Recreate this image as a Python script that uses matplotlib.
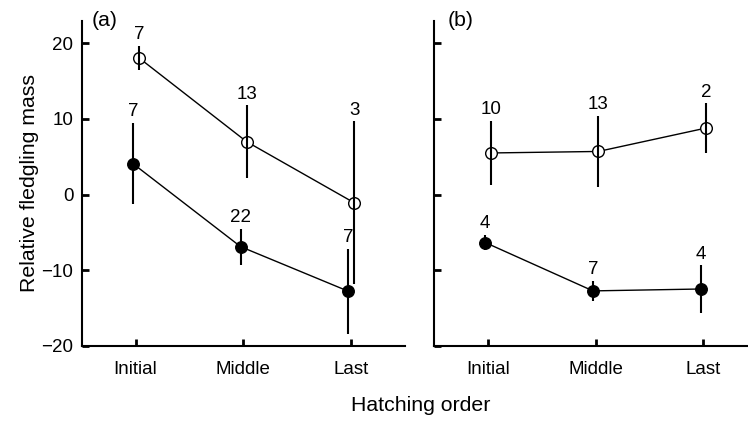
#!/usr/bin/env python3
"""Relative fledgling mass by hatching order, two panels."""

import matplotlib

matplotlib.use("Agg")
import matplotlib.pyplot as plt
import numpy as np

plt.rcParams["font.family"] = ["Liberation Sans", "DejaVu Sans"]

ORDER = ["Initial", "Middle", "Last"]

# panel (a)
A_OPEN_MEAN = [18.1, 7.0, -1.1]
A_OPEN_ERR = [1.6, 4.8, 10.8]
A_OPEN_N = ["7", "13", "3"]
A_FILLED_MEAN = [4.1, -6.9, -12.8]
A_FILLED_ERR = [5.4, 2.4, 5.6]
A_FILLED_N = ["7", "22", "7"]

# panel (b)
B_OPEN_MEAN = [5.5, 5.7, 8.8]
B_OPEN_ERR = [4.25, 4.75, 3.25]
B_OPEN_N = ["10", "13", "2"]
B_FILLED_MEAN = [-6.35, -12.75, -12.5]
B_FILLED_ERR = [1.0, 1.3, 3.15]
B_FILLED_N = ["4", "7", "4"]

FS = 13.5
LABEL_FS = 15.3


def draw_series(ax, x, mean, err, labels, filled):
    x = np.asarray(x, dtype=float)
    mean = np.asarray(mean, dtype=float)
    err = np.asarray(err, dtype=float)
    ax.plot(x, mean, color="black", linewidth=1.0, zorder=3)
    if filled:
        ax.plot(x, mean, "o", color="black", markersize=8.3, zorder=4)
    else:
        ax.plot(x, mean, "o", markerfacecolor="white", markeredgecolor="black",
                markeredgewidth=1.0, markersize=8.4, zorder=4)
    ax.errorbar(x, mean, yerr=err, fmt="none", ecolor="black",
                elinewidth=1.5, capsize=0, zorder=5)
    for xi, top, lab in zip(x, mean + err, labels):
        ax.text(xi, top + 0.35, lab, ha="center", va="bottom", fontsize=FS)


def style_axis(ax, show_labels):
    ax.set_xlim(-0.5, 2.5)
    ax.set_ylim(-20, 23)
    ax.set_yticks([-20, -10, 0, 10, 20])
    ax.set_xticks(range(len(ORDER)))
    ax.set_xticklabels(ORDER, fontsize=FS)
    for side in ("top", "right"):
        ax.spines[side].set_visible(False)
    for side in ("left", "bottom"):
        ax.spines[side].set_linewidth(1.5)
    ax.tick_params(direction="in", length=5, width=2, labelsize=FS)
    ax.tick_params(axis="x", pad=11)
    ax.tick_params(axis="y", pad=6)
    if show_labels:
        ax.set_yticklabels(["\u221220", "\u221210", "0", "10", "20"])
    else:
        ax.set_yticklabels([])


def main():
    fig = plt.figure(figsize=(7.48, 4.21), dpi=100)
    ax_a = fig.add_axes([0.1092, 0.1789, 0.4322, 0.7719])
    ax_b = fig.add_axes([0.5802, 0.1789, 0.4322, 0.7719])

    pos = np.arange(len(ORDER))
    draw_series(ax_a, pos + 0.03, A_OPEN_MEAN, A_OPEN_ERR, A_OPEN_N, False)
    draw_series(ax_a, pos - 0.025, A_FILLED_MEAN, A_FILLED_ERR, A_FILLED_N, True)
    draw_series(ax_b, pos + 0.025, B_OPEN_MEAN, B_OPEN_ERR, B_OPEN_N, False)
    draw_series(ax_b, pos - 0.025, B_FILLED_MEAN, B_FILLED_ERR, B_FILLED_N, True)

    style_axis(ax_a, True)
    style_axis(ax_b, False)
    ax_a.set_ylabel("Relative fledgling mass", fontsize=LABEL_FS, labelpad=2)

    ax_a.text(0.032, 1.0, "(a)", transform=ax_a.transAxes, fontsize=LABEL_FS, va="center")
    ax_b.text(0.043, 1.0, "(b)", transform=ax_b.transAxes, fontsize=LABEL_FS, va="center")
    fig.text(0.563, 0.038, "Hatching order", ha="center", va="center", fontsize=LABEL_FS)

    fig.savefig("out.png", dpi=100)
    plt.close(fig)


if __name__ == "__main__":
    main()
